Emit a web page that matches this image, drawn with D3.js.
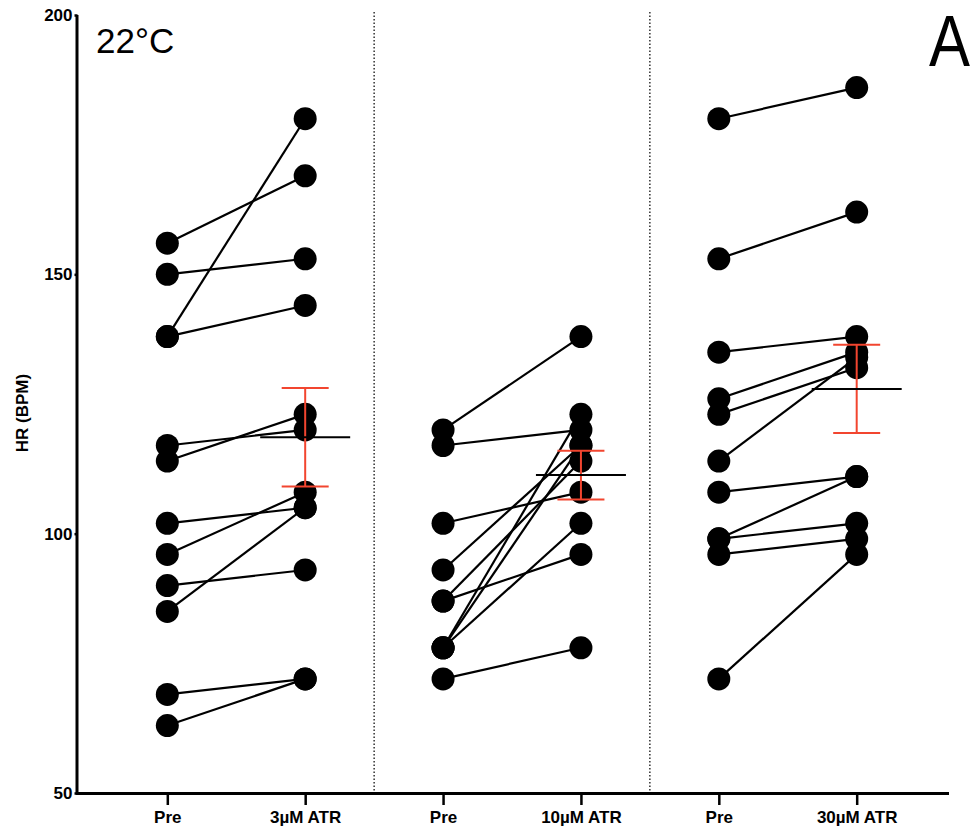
<!DOCTYPE html>
<html>
<head>
<meta charset="utf-8">
<script src="https://cdn.jsdelivr.net/npm/d3@7"></script>
<style>
  body { margin: 0; background: #fff; }
  svg { display: block; font-family: "Liberation Sans", Arial, sans-serif; }
</style>
</head>
<body>
<svg id="chart" width="977" height="834"></svg>
<script>
// categories along the x axis (index used as key, since "Pre" repeats)
var categories = ["Pre", "3µM ATR", "Pre", "10µM ATR", "Pre", "30µM ATR"];
var yTicks = [50, 100, 150, 200];

// paired heart rates, one entry per animal (pre -> post)
var pre3   = [156, 150, 138, 138, 117, 114, 102, 96, 90, 85, 69, 63];
var post3  = [169, 153, 180, 144, 120, 123, 105, 108, 93, 105, 72, 72];
var pre10  = [120, 117, 102, 93, 87, 87, 78, 78, 78, 72];
var post10 = [138, 120, 108, 117, 96, 114, 123, 117, 102, 78];
var pre30  = [180, 153, 135, 126, 123, 114, 108, 99, 99, 96, 72];
var post30 = [186, 162, 138, 135, 132, 134, 111, 111, 102, 99, 96];

// mean +/- SEM drawn on the post column
var postMeans = [118.6, 111.3, 127.9];
var postSems  = [9.5, 4.7, 8.5];

var svg = d3.select("#chart");

var x = d3.scalePoint()
    .domain(d3.range(categories.length))
    .range([77, 947])
    .padding(0.655);

var y = d3.scaleLinear()
    .domain([50, 200])
    .range([793, 15]);

var groups = [
    {pre: pre3, post: post3},
    {pre: pre10, post: post10},
    {pre: pre30, post: post30}
];

// dotted dividers between the treatment blocks
for (var g = 0; g < groups.length - 1; g++) {
    var xm = (x(g * 2 + 1) + x(g * 2 + 2)) / 2;
    svg.append("line")
        .attr("x1", xm).attr("x2", xm)
        .attr("y1", 12).attr("y2", y(50))
        .attr("stroke", "#111")
        .attr("stroke-width", 1.3)
        .attr("stroke-dasharray", "1.5,2");
}

// connecting lines first, dots on top
groups.forEach(function(grp, gi) {
    var xa = x(gi * 2), xb = x(gi * 2 + 1);
    var pairs = grp.pre.map(function(v, i) { return [v, grp.post[i]]; });

    svg.append("g").selectAll("line")
        .data(pairs)
        .join("line")
        .attr("x1", xa).attr("x2", xb)
        .attr("y1", function(d) { return y(d[0]); })
        .attr("y2", function(d) { return y(d[1]); })
        .attr("stroke", "#000")
        .attr("stroke-width", 2.2);

    svg.append("g").selectAll("circle.pre")
        .data(grp.pre)
        .join("circle")
        .attr("cx", xa)
        .attr("cy", function(d) { return y(d); })
        .attr("r", 11.5)
        .attr("fill", "#000");

    svg.append("g").selectAll("circle.post")
        .data(grp.post)
        .join("circle")
        .attr("cx", xb)
        .attr("cy", function(d) { return y(d); })
        .attr("r", 11.5)
        .attr("fill", "#000");
});

// mean line and SEM bars
postMeans.forEach(function(m, gi) {
    var xb = x(gi * 2 + 1);
    var s = postSems[gi];
    var red = "#f2452f";

    svg.append("line")
        .attr("x1", xb).attr("x2", xb)
        .attr("y1", y(m + s)).attr("y2", y(m - s))
        .attr("stroke", red).attr("stroke-width", 2);
    [m + s, m - s].forEach(function(v) {
        svg.append("line")
            .attr("x1", xb - 23.5).attr("x2", xb + 23.5)
            .attr("y1", y(v)).attr("y2", y(v))
            .attr("stroke", red).attr("stroke-width", 2);
    });
    svg.append("line")
        .attr("x1", xb - 45).attr("x2", xb + 45)
        .attr("y1", y(m)).attr("y2", y(m))
        .attr("stroke", "#000").attr("stroke-width", 2);
});

// axes
var yAxis = svg.append("g")
    .attr("transform", "translate(77.5,0)")
    .call(d3.axisLeft(y).tickValues(yTicks).tickSize(3).tickSizeOuter(0).tickPadding(2));

var xAxis = svg.append("g")
    .attr("transform", "translate(0," + y(50) + ")")
    .call(d3.axisBottom(x).tickSize(12).tickSizeOuter(0).tickPadding(6)
        .tickFormat(function(i) { return categories[i]; }));

[yAxis, xAxis].forEach(function(ax) {
    ax.select(".domain").attr("stroke-width", 3);
    ax.selectAll(".tick line").attr("stroke-width", 2.5);
    ax.selectAll("text")
        .attr("font-family", "'Liberation Sans', Arial, sans-serif")
        .attr("font-weight", "bold")
        .attr("font-size", 17)
        .attr("fill", "#000");
});
xAxis.select(".domain").attr("d", "M76,0.5H949");
yAxis.select(".domain").attr("d", "M-0.5,15V794.5");

svg.append("text")
    .attr("transform", "translate(28,413) rotate(-90)")
    .attr("text-anchor", "middle")
    .attr("font-weight", "bold")
    .attr("font-size", 17)
    .text("HR (BPM)");

svg.append("text")
    .attr("x", 96).attr("y", 53)
    .attr("font-size", 35)
    .text("22°C");

svg.append("text")
    .attr("x", 929).attr("y", 66)
    .attr("font-size", 72)
    .attr("textLength", 41)
    .attr("lengthAdjust", "spacingAndGlyphs")
    .text("A");
</script>
</body>
</html>
